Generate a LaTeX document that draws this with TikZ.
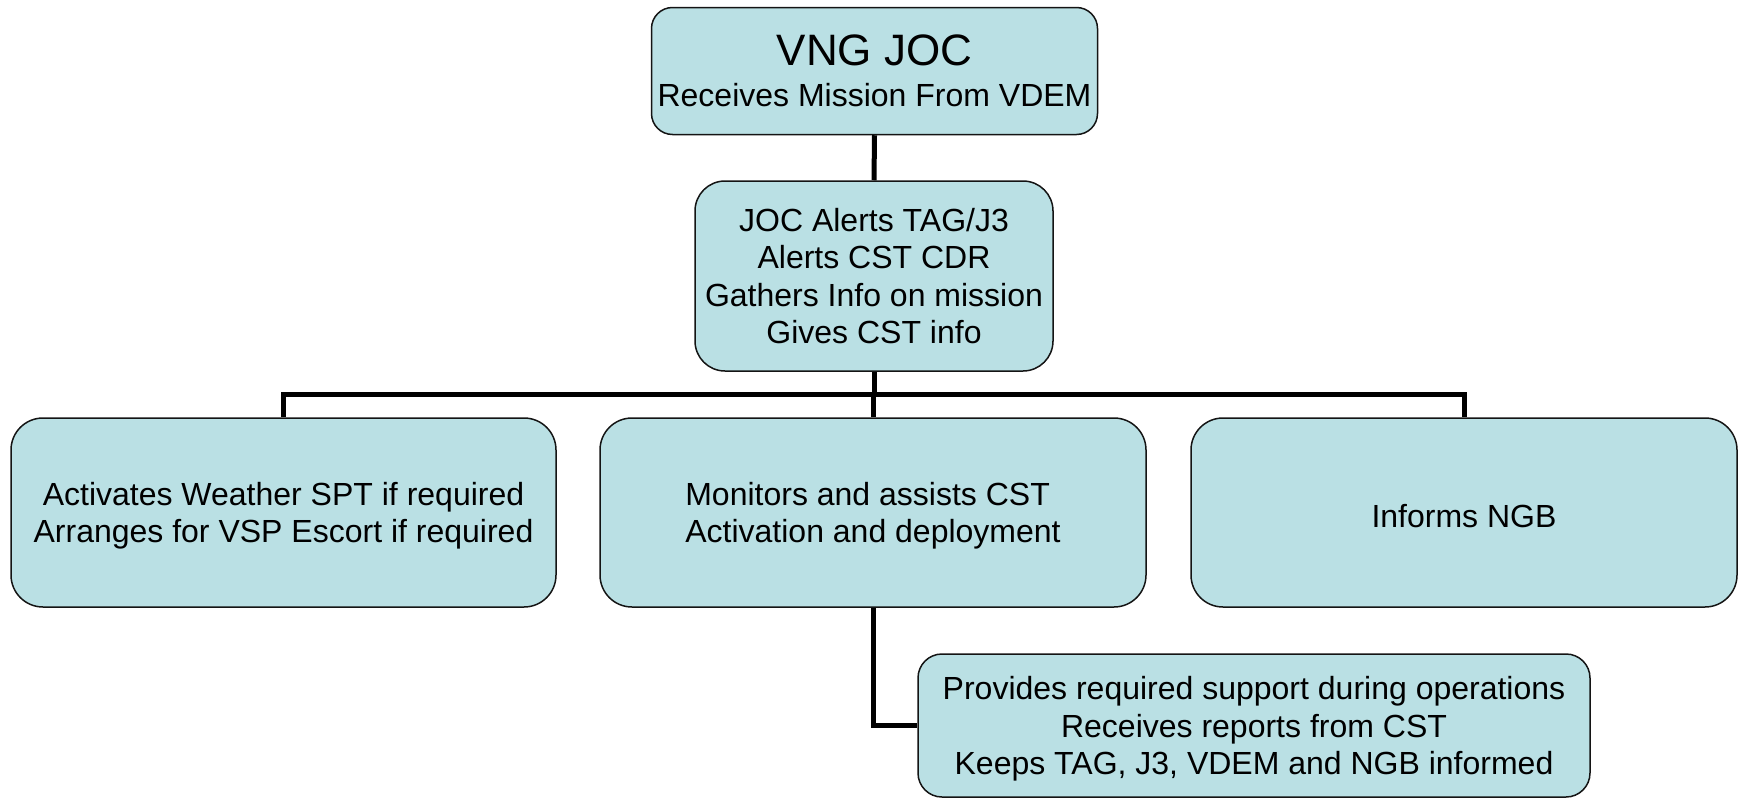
\documentclass[tikz,border=0pt]{standalone}
\usepackage{fontspec}
\setmainfont{Liberation Sans}
\definecolor{boxfill}{RGB}{186,224,228}
\definecolor{boxdraw}{RGB}{20,20,20}
\newcommand{\lowerstrut}{\rule{0pt}{30pt}}
\begin{document}
\begin{tikzpicture}[x=1pt,y=-1pt,
  orgbox/.style={draw=boxdraw,line width=1.5pt,fill=boxfill,inner sep=0pt,
    align=center,font=\fontsize{32}{37.3}\selectfont,text=black},
  conn/.style={line width=5pt,draw=black,line join=miter}]
\useasboundingbox (0,0) rectangle (1740,798);
\node[orgbox,minimum width=446pt,minimum height=127pt,rounded corners=21pt,
  font=\fontsize{32}{41}\selectfont] (top) at (874.5,71)
  {{\fontsize{44}{41}\selectfont VNG JOC}\\Receives Mission From VDEM};
\node[orgbox,minimum width=358pt,minimum height=190pt,rounded corners=30pt] (joc) at (874,276)
  {JOC Alerts TAG/J3\\Alerts CST CDR\\Gathers Info on mission\\Gives CST info};
\node[orgbox,minimum width=545pt,minimum height=189pt,rounded corners=32pt] (wx) at (283.5,512.5)
  {\lowerstrut Activates Weather SPT if required\\Arranges for VSP Escort if required};
\node[orgbox,minimum width=546pt,minimum height=189pt,rounded corners=32pt,align=left] (mon) at (873,512.5)
  {\lowerstrut Monitors and assists CST\\Activation and deployment};
\node[orgbox,minimum width=546pt,minimum height=189pt,rounded corners=32pt] (ngb) at (1464,512.5)
  {\lowerstrut Informs NGB};
\node[orgbox,minimum width=672pt,minimum height=143pt,rounded corners=24pt,
  font=\fontsize{32}{37.5}\selectfont] (sup) at (1254,725.5)
  {\lowerstrut Provides required support during operations\\Receives reports from CST\\Keeps TAG, J3, VDEM and NGB informed};
\coordinate (bus) at (874,394.5);
\draw[conn] (top.south) -- (joc.north);
\draw[conn] (joc.south) -- (joc.south |- bus);
\draw[conn] (wx.north) -- (wx.north |- bus) -- (ngb.north |- bus) -- (ngb.north);
\draw[conn] (mon.north) -- (mon.north |- bus);
\draw[conn] (mon.south) |- (sup.west);
\end{tikzpicture}
\end{document}
